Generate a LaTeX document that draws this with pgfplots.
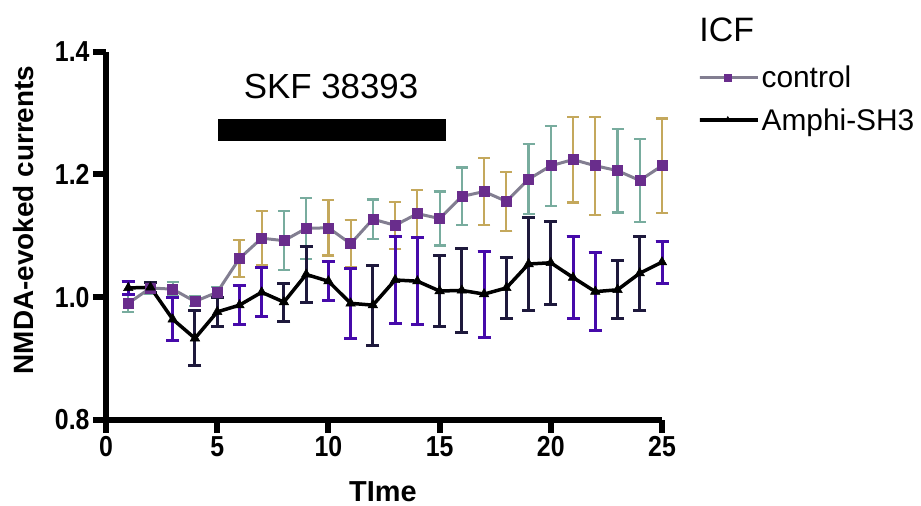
\documentclass[border=0pt]{standalone}
\usepackage{pgfplots}
\pgfplotsset{compat=1.18}
\usepackage{pgfplotstable}
\usepackage{fontspec}
\setmainfont{Liberation Sans}
\newfontfamily\tickfont[FakeStretch=0.86]{Liberation Sans}
\definecolor{ctrlline}{RGB}{130,126,145}
\definecolor{ctrlmark}{RGB}{105,45,140}
\definecolor{errteal}{RGB}{120,172,158}
\definecolor{errorange}{RGB}{196,168,92}
\definecolor{amdark}{RGB}{30,25,60}
\definecolor{ampurp}{RGB}{70,10,170}

\pgfplotstableread{
x y e
1 0.990 0.014
2 1.015 0.010
3 1.013 0.012
4 0.993 0.008
5 1.008 0.008
6 1.063 0.030
7 1.096 0.044
8 1.092 0.048
9 1.112 0.050
10 1.113 0.045
11 1.087 0.038
12 1.127 0.032
13 1.117 0.038
14 1.136 0.038
15 1.128 0.044
16 1.164 0.047
17 1.172 0.054
18 1.156 0.048
19 1.192 0.057
20 1.214 0.065
21 1.224 0.070
22 1.214 0.080
23 1.206 0.068
24 1.190 0.068
25 1.214 0.077
}\control

\pgfplotstableread{
x y e
6 1.063 0.030
7 1.096 0.044
10 1.113 0.045
11 1.087 0.038
13 1.117 0.038
14 1.136 0.038
17 1.172 0.054
18 1.156 0.048
21 1.224 0.070
22 1.214 0.080
25 1.214 0.077
}\controlorange

\pgfplotstableread{
x y e
1 1.015 0.010
2 1.016 0.008
3 0.964 0.035
4 0.933 0.045
5 0.976 0.024
6 0.987 0.032
7 1.008 0.040
8 0.992 0.031
9 1.037 0.045
10 1.026 0.032
11 0.990 0.057
12 0.987 0.065
13 1.028 0.071
14 1.026 0.071
15 1.010 0.058
16 1.011 0.068
17 1.005 0.070
18 1.015 0.049
19 1.054 0.075
20 1.056 0.068
21 1.032 0.067
22 1.009 0.063
23 1.012 0.047
24 1.039 0.060
25 1.057 0.034
}\amphi

\pgfplotstableread{
x y e
1 1.015 0.010
3 0.964 0.035
6 0.987 0.032
7 1.008 0.040
10 1.026 0.032
11 0.990 0.057
13 1.028 0.071
14 1.026 0.071
17 1.005 0.070
21 1.032 0.067
22 1.009 0.063
25 1.057 0.034
}\amphipurple

\begin{document}
\begin{tikzpicture}
\path[use as bounding box] (0,0) rectangle (921bp,506bp);
\begin{axis}[
  at={(106bp,86bp)}, anchor=south west,
  width=556bp, height=368.5bp, scale only axis,
  xmin=0, xmax=25, ymin=0.8, ymax=1.4,
  xtick={0,5,10,15,20,25},
  ytick={0.8,1.0,1.2,1.4},
  yticklabel style={/pgf/number format/fixed, /pgf/number format/fixed zerofill, /pgf/number format/precision=1},
  /pgf/number format/assume math mode=true,
  axis x line*=bottom, axis y line*=left,
  axis line style={line width=6bp, -},
  tick align=outside,
  major tick length=13bp,
  every tick/.style={line width=6bp, black},
  minor tick num=0,
  tick label style={font=\fontsize{29}{32}\tickfont\bfseries},
  xlabel={TIme},
  ylabel={NMDA-evoked currents},
  xlabel style={font=\fontsize{29}{33}\selectfont\bfseries, at={(axis description cs:0.498,-0.195)}, anchor=center},
  ylabel style={font=\fontsize{28}{32}\selectfont\bfseries, at={(axis description cs:-0.1475,0.543)}, anchor=center},
  clip=false,
  legend style={draw=none, fill=none, at={(axis description cs:1.0645,0.966)}, anchor=north west,
    font=\fontsize{30}{34}\selectfont, row sep=15bp, inner sep=0pt, nodes={inner sep=2bp}},
  legend cell align=left,
  legend image code/.code={
    \path (0bp,0bp) rectangle (58bp,0bp);
    \draw[#1, mark=none, line width=2.5bp] (0bp,0bp) -- (56bp,0bp);
    \path[#1, mark size=3.5bp, only marks] plot coordinates {(28bp,0bp)};
  },
]
% stimulus bar and label
\fill[black] (axis cs:5.04,1.254) rectangle (axis cs:15.29,1.290);
\node[font=\fontsize{35}{40}\selectfont, anchor=base] at (axis cs:10.12,1.324) {SKF 38393};

% control error bars (teal)
\addplot[forget plot, only marks, mark=none,
  error bars/.cd, y dir=both, y explicit,
  error bar style={errteal, line width=2.2bp},
  error mark options={errteal, line width=2.2bp, mark size=6bp, rotate=90}]
  table[x=x, y=y, y error=e] {\control};
% control error bars (orange)
\addplot[forget plot, only marks, mark=none,
  error bars/.cd, y dir=both, y explicit,
  error bar style={errorange, line width=2.2bp},
  error mark options={errorange, line width=2.2bp, mark size=6bp, rotate=90}]
  table[x=x, y=y, y error=e] {\controlorange};
% amphi error bars (dark)
\addplot[forget plot, only marks, mark=none,
  error bars/.cd, y dir=both, y explicit,
  error bar style={amdark, line width=3bp},
  error mark options={amdark, line width=3bp, mark size=6.5bp, rotate=90}]
  table[x=x, y=y, y error=e] {\amphi};
% amphi error bars (purple)
\addplot[forget plot, only marks, mark=none,
  error bars/.cd, y dir=both, y explicit,
  error bar style={ampurp, line width=3bp},
  error mark options={ampurp, line width=3bp, mark size=6.5bp, rotate=90}]
  table[x=x, y=y, y error=e] {\amphipurple};

\addplot[ctrlline, line width=3bp, mark=square*, mark size=5bp,
  mark options={fill=ctrlmark, draw=ctrlmark, line width=0.5bp}]
  table[x=x, y=y] {\control};
\addlegendentry{control}
\addplot[black, line width=3.5bp, mark=triangle*, mark size=5.5bp,
  mark options={fill=black, line width=0.5bp}]
  table[x=x, y=y] {\amphi};
\addlegendentry{Amphi-SH3}

\node[font=\fontsize{34}{38}\selectfont, anchor=north west] at (axis description cs:1.061,1.102) {ICF};
\end{axis}
\end{tikzpicture}
\end{document}
